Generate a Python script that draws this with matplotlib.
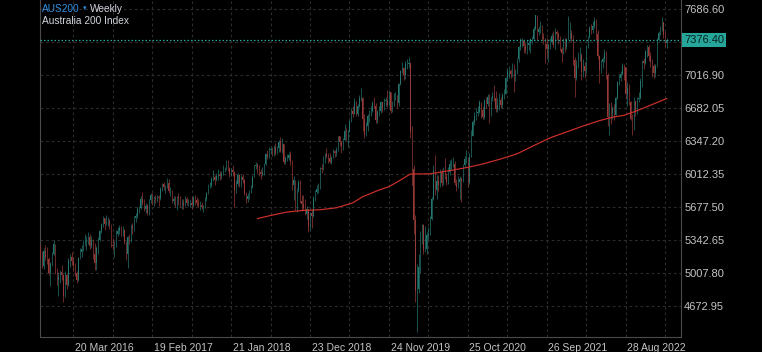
import matplotlib
matplotlib.use("Agg")
import matplotlib.pyplot as plt
import matplotlib.transforms as mtransforms
import numpy as np

plt.rcParams['font.family'] = ['Liberation Sans', 'DejaVu Sans']

# ---------------- data (weekly, AUS200) ----------------
first_open = 5240
closes = [
    5200, 5080, 5230, 5170, 5150, 5000, 5100, 5200, 5300, 5010,
    4930, 4960, 5010, 4980, 4770, 4980, 4880, 5140, 5170, 5130,
    5080, 5000, 4930, 5160, 5220, 5250, 5300, 5320, 5330, 5375,
    5280, 5340, 5200, 5110, 5260, 5340, 5430, 5500, 5560, 5500,
    5530, 5530, 5490, 5290, 5280, 5280, 5400, 5430, 5460, 5440,
    5440, 5320, 5200, 5370, 5330, 5480, 5450, 5560, 5580, 5660,
    5665, 5760, 5720, 5660, 5690, 5620, 5750, 5800, 5710, 5770,
    5760, 5780, 5770, 5860, 5910, 5880, 5880, 5920, 5840, 5840,
    5740, 5760, 5700, 5780, 5770, 5720, 5720, 5700, 5760, 5720,
    5720, 5720, 5700, 5780, 5750, 5720, 5700, 5700, 5680, 5680,
    5760, 5820, 5900, 5900, 5960, 5980, 5950, 5990, 6000, 5990,
    6010, 6060, 6065, 6120, 6070, 6010, 6050, 6030, 5840, 5910,
    6000, 5920, 5980, 5950, 5820, 5760, 5790, 5830, 5880, 5980,
    6090, 6100, 6080, 6030, 6010, 6020, 6110, 6220, 6190, 6260,
    6270, 6220, 6290, 6230, 6280, 6340, 6250, 6320, 6130, 6170,
    6180, 6210, 6130, 5900, 5950, 5660, 5850, 5930, 5740, 5710,
    5670, 5610, 5660, 5470, 5620, 5580, 5770, 5830, 5860, 5860,
    6070, 6060, 6170, 6220, 6200, 6170, 6130, 6180, 6250, 6230,
    6260, 6400, 6340, 6300, 6360, 6450, 6400, 6440, 6550, 6650,
    6620, 6750, 6620, 6700, 6790, 6790, 6570, 6410, 6500, 6600,
    6640, 6650, 6730, 6700, 6560, 6640, 6650, 6740, 6670, 6760,
    6760, 6710, 6850, 6650, 6740, 6820, 6820, 6730, 6930, 7060,
    7090, 7020, 7130, 7130, 7140, 6440, 6060, 5540, 4820, 4840,
    5070, 5390, 5490, 5240, 5250, 5390, 5400, 5550, 5760, 6040,
    5850, 5940, 5900, 6030, 5920, 6030, 5980, 5930, 6030, 6110,
    6110, 6110, 5920, 5880, 5930, 5960, 5940, 6100, 6160, 6170,
    5930, 6190, 6400, 6540, 6600, 6630, 6640, 6740, 6660, 6590,
    6760, 6720, 6800, 6610, 6790, 6810, 6790, 6670, 6710, 6770,
    6710, 6820, 6830, 6990, 7060, 7060, 7030, 7120, 7010, 7030,
    7180, 7300, 7370, 7370, 7310, 7270, 7330, 7350, 7390, 7390,
    7490, 7630, 7460, 7490, 7520, 7410, 7400, 7340, 7280, 7320,
    7360, 7420, 7320, 7460, 7440, 7400, 7280, 7240, 7350, 7300,
    7390, 7450, 7450, 7390, 7170, 6990, 7120, 7220, 7220, 7050,
    7110, 7060, 7300, 7410, 7500, 7480, 7520, 7570, 7440, 7210,
    7070, 7150, 7180, 7240, 7020, 6590, 6710, 6630, 6680, 6610,
    6790, 6950, 6990, 7030, 7110, 7100, 6830, 6890, 6740, 6570,
    6470, 6760, 6640, 6780, 6790, 6960, 7160, 7140, 7260, 7300,
    7210, 7150, 7110, 7040, 7110, 7380, 7450, 7490, 7560, 7430,
    7350, 7376.4,
]
highs = [
    5300, 5230, 5260, 5290, 5270, 5170, 5120, 5220, 5340, 5300,
    5060, 5010, 5040, 5090, 4990, 5020, 5000, 5160, 5200, 5222,
    5170, 5110, 5020, 5170, 5260, 5290, 5340, 5400, 5380, 5425,
    5400, 5380, 5350, 5310, 5280, 5370, 5445, 5510, 5580, 5560,
    5595, 5570, 5550, 5500, 5360, 5330, 5440, 5470, 5493, 5480,
    5480, 5450, 5330, 5380, 5400, 5500, 5510, 5580, 5620, 5680,
    5690, 5790, 5832, 5760, 5720, 5710, 5760, 5815, 5815, 5790,
    5800, 5800, 5800, 5880, 5917, 5930, 5900, 5968, 5960, 5880,
    5850, 5790, 5790, 5790, 5815, 5790, 5760, 5760, 5790, 5780,
    5760, 5750, 5780, 5790, 5800, 5780, 5760, 5740, 5730, 5700,
    5780, 5830, 5910, 5930, 5980, 6053, 6000, 6020, 6060, 6040,
    6040, 6100, 6080, 6155, 6150, 6080, 6070, 6100, 6040, 5950,
    6020, 6010, 6000, 6010, 5960, 5830, 5820, 5850, 5900, 6000,
    6100, 6138, 6120, 6100, 6060, 6080, 6120, 6230, 6260, 6290,
    6290, 6290, 6310, 6324, 6300, 6358, 6385, 6375, 6320, 6200,
    6220, 6240, 6250, 6150, 5990, 5950, 5870, 5950, 5950, 5800,
    5800, 5760, 5690, 5660, 5630, 5660, 5790, 5850, 5900, 5920,
    6087, 6110, 6200, 6230, 6280, 6230, 6230, 6200, 6270, 6260,
    6290, 6400, 6400, 6350, 6380, 6520, 6480, 6460, 6560, 6680,
    6700, 6782, 6760, 6720, 6820, 6884, 6800, 6620, 6540, 6620,
    6660, 6700, 6760, 6800, 6730, 6660, 6700, 6760, 6740, 6790,
    6800, 6867, 6860, 6850, 6760, 6840, 6850, 6820, 6940, 7070,
    7156, 7100, 7160, 7180, 7206, 7150, 6500, 6100, 5600, 5100,
    5200, 5430, 5500, 5500, 5480, 5420, 5470, 5580, 5780, 6100,
    6205, 6000, 6000, 6060, 6060, 6080, 6180, 6020, 6080, 6150,
    6160, 6190, 6140, 5960, 5990, 5990, 5980, 6110, 6200, 6257,
    6180, 6230, 6460, 6562, 6640, 6680, 6700, 6765, 6740, 6700,
    6780, 6800, 6830, 6830, 6800, 6850, 6918, 6860, 6790, 6833,
    6800, 6840, 6880, 7000, 7080, 7110, 7080, 7139, 7130, 7080,
    7190, 7310, 7393, 7400, 7380, 7350, 7380, 7380, 7400, 7420,
    7520, 7631, 7630, 7520, 7570, 7530, 7450, 7400, 7400, 7350,
    7400, 7450, 7470, 7495, 7480, 7460, 7420, 7300, 7400, 7400,
    7400, 7620, 7560, 7480, 7430, 7200, 7172, 7250, 7300, 7240,
    7180, 7150, 7320, 7420, 7520, 7540, 7573, 7614, 7590, 7480,
    7220, 7170, 7200, 7280, 7260, 7040, 6730, 6750, 6700, 6720,
    6800, 6960, 7030, 7060, 7139, 7130, 7100, 6950, 6930, 6760,
    6620, 6800, 6760, 6800, 6850, 6990, 7170, 7190, 7270, 7330,
    7320, 7250, 7180, 7130, 7130, 7400, 7470, 7520, 7614, 7560,
    7470, 7400,
]
lows = [
    5150, 5060, 5050, 5140, 5100, 4980, 4870, 5080, 5190, 4990,
    4880, 4770, 4900, 4930, 4706, 4760, 4840, 4870, 5070, 5090,
    5030, 4970, 4900, 4920, 5150, 5170, 5230, 5280, 5240, 5300,
    5250, 5260, 5150, 5040, 5040, 5200, 5330, 5410, 5470, 5440,
    5490, 5480, 5450, 5270, 5240, 5171, 5270, 5380, 5400, 5380,
    5380, 5300, 5140, 5052, 5300, 5320, 5400, 5430, 5520, 5560,
    5620, 5660, 5700, 5640, 5620, 5600, 5595, 5720, 5700, 5690,
    5720, 5730, 5690, 5750, 5840, 5850, 5820, 5870, 5820, 5790,
    5720, 5700, 5680, 5650, 5700, 5680, 5660, 5660, 5690, 5700,
    5690, 5680, 5660, 5680, 5700, 5690, 5680, 5650, 5660, 5628,
    5670, 5740, 5810, 5870, 5880, 5940, 5900, 5940, 5950, 5950,
    5960, 6000, 6030, 6050, 6040, 5980, 5990, 5990, 5680, 5820,
    5890, 5880, 5880, 5920, 5800, 5714, 5730, 5760, 5820, 5870,
    5980, 6060, 6020, 5990, 5960, 5990, 6000, 6100, 6160, 6170,
    6220, 6200, 6200, 6210, 6220, 6240, 6240, 6230, 6110, 6110,
    6140, 6150, 6100, 5850, 5750, 5650, 5630, 5830, 5720, 5640,
    5650, 5600, 5550, 5425, 5440, 5460, 5570, 5740, 5810, 5820,
    5860, 6020, 6050, 6120, 6170, 6120, 6120, 6110, 6170, 6190,
    6200, 6250, 6300, 6230, 6260, 6350, 6360, 6290, 6440, 6540,
    6590, 6620, 6600, 6600, 6690, 6760, 6450, 6375, 6400, 6450,
    6540, 6600, 6640, 6680, 6530, 6528, 6600, 6630, 6640, 6660,
    6700, 6690, 6700, 6630, 6640, 6700, 6770, 6680, 6700, 6920,
    7040, 6970, 6980, 7080, 7090, 6380, 5900, 5400, 4710, 4402,
    4800, 5000, 5300, 5200, 5220, 5200, 5340, 5390, 5540, 5750,
    5800, 5760, 5840, 5880, 5890, 5900, 5960, 5900, 5910, 6000,
    6050, 6080, 5900, 5840, 5870, 5760, 5731, 5930, 6080, 6120,
    5883, 5910, 6190, 6400, 6510, 6560, 6600, 6630, 6580, 6570,
    6570, 6680, 6700, 6528, 6600, 6760, 6760, 6640, 6640, 6664,
    6680, 6680, 6780, 6830, 6960, 6990, 6990, 7000, 6850, 6960,
    7030, 7150, 7270, 7300, 7240, 7240, 7230, 7270, 7240, 7340,
    7380, 7480, 7380, 7430, 7450, 7380, 7340, 7139, 7200, 7150,
    7280, 7340, 7300, 7280, 7380, 7340, 7260, 7156, 7230, 7250,
    7280, 7380, 7390, 7360, 7120, 6800, 6970, 7090, 7160, 6970,
    7000, 6990, 7040, 7290, 7400, 7440, 7450, 7500, 7376, 7180,
    6935, 7040, 7090, 7150, 6980, 6500, 6409, 6520, 6570, 6560,
    6610, 6780, 6920, 6960, 7020, 6970, 6780, 6700, 6710, 6560,
    6409, 6460, 6600, 6620, 6740, 6780, 6900, 7080, 7130, 7200,
    7160, 7100, 7000, 6986, 7000, 7100, 7370, 7430, 7470, 7400,
    7300, 7290,
]

# moving-average line (week index -> value)
ma_weeks = [132, 140, 150, 160, 170, 180, 190, 196, 206, 212, 218, 225, 237,
            248, 260, 270, 280, 290, 300, 310, 320, 330, 340, 348, 355, 362,
            370, 381]
ma_values = [5558, 5590, 5625, 5642, 5648, 5668, 5718, 5781, 5849, 5883, 5940,
             6012, 6014, 6044, 6080, 6118, 6165, 6218, 6300, 6380, 6440, 6500,
             6555, 6590, 6610, 6650, 6705, 6780]

last_price = 7376.40
y_ticks = [4672.95, 5007.80, 5342.65, 5677.50, 6012.35, 6347.20, 6682.05,
           7016.90, 7351.75, 7686.60]
x_tick_weeks = [20, 68, 116, 164, 212, 260, 308, 356]
x_tick_labels = ['20 Mar 2016', '19 Feb 2017', '21 Jan 2018', '23 Dec 2018',
                 '24 Nov 2019', '25 Oct 2020', '26 Sep 2021', '28 Aug 2022']
grid_weeks = list(range(20, 390, 24))

# ---------------- drawing ----------------
UP = '#23756e'
DOWN = '#963a37'
LABEL_BG = '#26a69a'
BG = '#000000'
GRID = '#2b2b2b'
TXT = '#c4c4c4'

fig = plt.figure(figsize=(7.62, 3.52), dpi=100, facecolor=BG)
ax = fig.add_axes([40 / 762, 15 / 352, 640.7 / 762, 337 / 352], facecolor=BG)

c = np.asarray(closes, dtype=float)
h = np.asarray(highs, dtype=float)
l = np.asarray(lows, dtype=float)
o = np.r_[first_open, c[:-1]]
w = np.arange(len(c))
up = c >= o
cols = np.where(up, UP, DOWN)

ax.vlines(w, l, h, colors=cols, lw=0.5, zorder=3)
ax.bar(w, np.maximum(np.abs(c - o), 1), bottom=np.minimum(o, c), width=0.35,
       color=cols, lw=0, zorder=3)

ax.plot(ma_weeks, ma_values, color='#d0302b', lw=0.85, zorder=4)

ax.axhline(last_price, color=LABEL_BG, ls=(0, (1.2, 1.6)), lw=0.9, zorder=5)

ax.set_xlim(-0.25, 389.5)
ax.set_ylim(4353.3, 7783.0)

ax.set_yticks(y_ticks)
ax.set_yticklabels([('' if abs(v - 7351.75) < 0.01 else f'{v:.2f}') for v in y_ticks])
ax.yaxis.tick_right()
ax.tick_params(axis='y', length=0, pad=2.5, labelsize=8, labelcolor=TXT)

ax.set_xticks(grid_weeks)
ax.set_xticklabels([''] * len(grid_weeks))
ax.tick_params(axis='x', length=0)
for wk, lab in zip(x_tick_weeks, x_tick_labels):
    ax.annotate(lab, xy=(wk, 0), xycoords=('data', 'axes fraction'),
                xytext=(1.2, -8), textcoords='offset points',
                ha='left', va='center', fontsize=7.5, color=TXT,
                annotation_clip=False)

ax.grid(True, color=GRID, ls=(0, (2.5, 2.5)), lw=0.8, zorder=0)

for side in ['left', 'right', 'bottom']:
    ax.spines[side].set_color('#4a4a4a')
    ax.spines[side].set_linewidth(0.8)
ax.spines['top'].set_visible(False)

# last price label
trans = mtransforms.blended_transform_factory(ax.transAxes, ax.transData)
ax.annotate(f'{last_price:.2f}', xy=(1.0, last_price), xycoords=trans,
            xytext=(2.6, 0), textcoords='offset points', ha='left', va='center',
            fontsize=8, color='#07211d', annotation_clip=False,
            bbox=dict(boxstyle='square,pad=0.18', fc=LABEL_BG, ec='none'), zorder=10)

# header
fig.text(42 / 762, 1 - 8.5 / 352, 'AUS200', color='#2f8fe0', fontsize=7.3,
         va='center', ha='left')
fig.text(82.5 / 762, 1 - 8.5 / 352, '\u25be', color='#2f8fe0', fontsize=5,
         va='center', ha='left', family=['DejaVu Sans'])
fig.text(89.5 / 762, 1 - 8.5 / 352, 'Weekly', color='#d1d4dc', fontsize=7.3,
         va='center', ha='left')
fig.text(42 / 762, 1 - 21.5 / 352, 'Australia 200 Index', color='#d1d4dc',
         fontsize=7.3, va='center', ha='left')

fig.savefig('out.png', dpi=100, facecolor=BG)
